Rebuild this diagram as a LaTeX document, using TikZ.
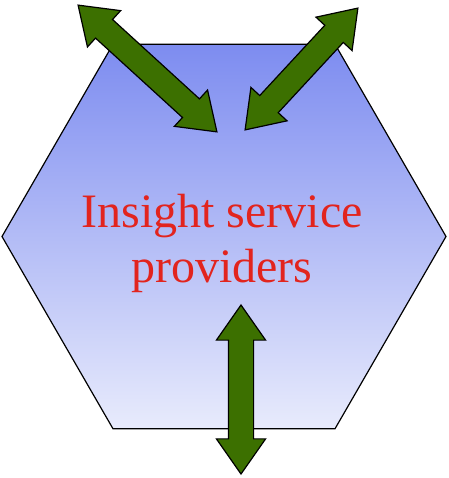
\documentclass[tikz,border=0pt]{standalone}
\usepackage{fontspec}
\setmainfont{Liberation Serif}
\usetikzlibrary{shapes.geometric,shapes.arrows}
\definecolor{hextop}{RGB}{125,140,240}
\definecolor{hexbot}{RGB}{232,235,252}
\definecolor{arrowgreen}{RGB}{60,112,0}
\definecolor{labelred}{RGB}{226,36,30}

\begin{document}
\begin{tikzpicture}[
    x=1pt,y=-1pt,
    hexa/.style={regular polygon,regular polygon sides=6,minimum size=444pt,inner sep=0pt,
      draw=black,line width=1.2pt,top color=hextop,bottom color=hexbot},
    dblarrow/.style={double arrow,draw=black,line width=1.2pt,fill=arrowgreen,
      inner xsep=0pt,inner ysep=12pt,minimum width=48pt,
      double arrow head extend=12pt,double arrow tip angle=70},
    label/.style={text=labelred,font=\fontsize{48}{55}\selectfont,align=center}
  ]
  \useasboundingbox (0,0) rectangle (448,478);
  \node[hexa] (hex) at (224,236.5) {};
  \node[label] (name) at (222,243) {Insight service\\providers};

  % Links
  \node[dblarrow,minimum height=188pt,rotate=-42.4] (linkleft) at (147.5,68.5) {};
  \node[dblarrow,minimum height=166pt,rotate=47.2] (linkright) at (301.5,69) {};
  \node[dblarrow,minimum height=169pt,rotate=90] (linkdown) at (241,389.5) {};
\end{tikzpicture}
\end{document}
